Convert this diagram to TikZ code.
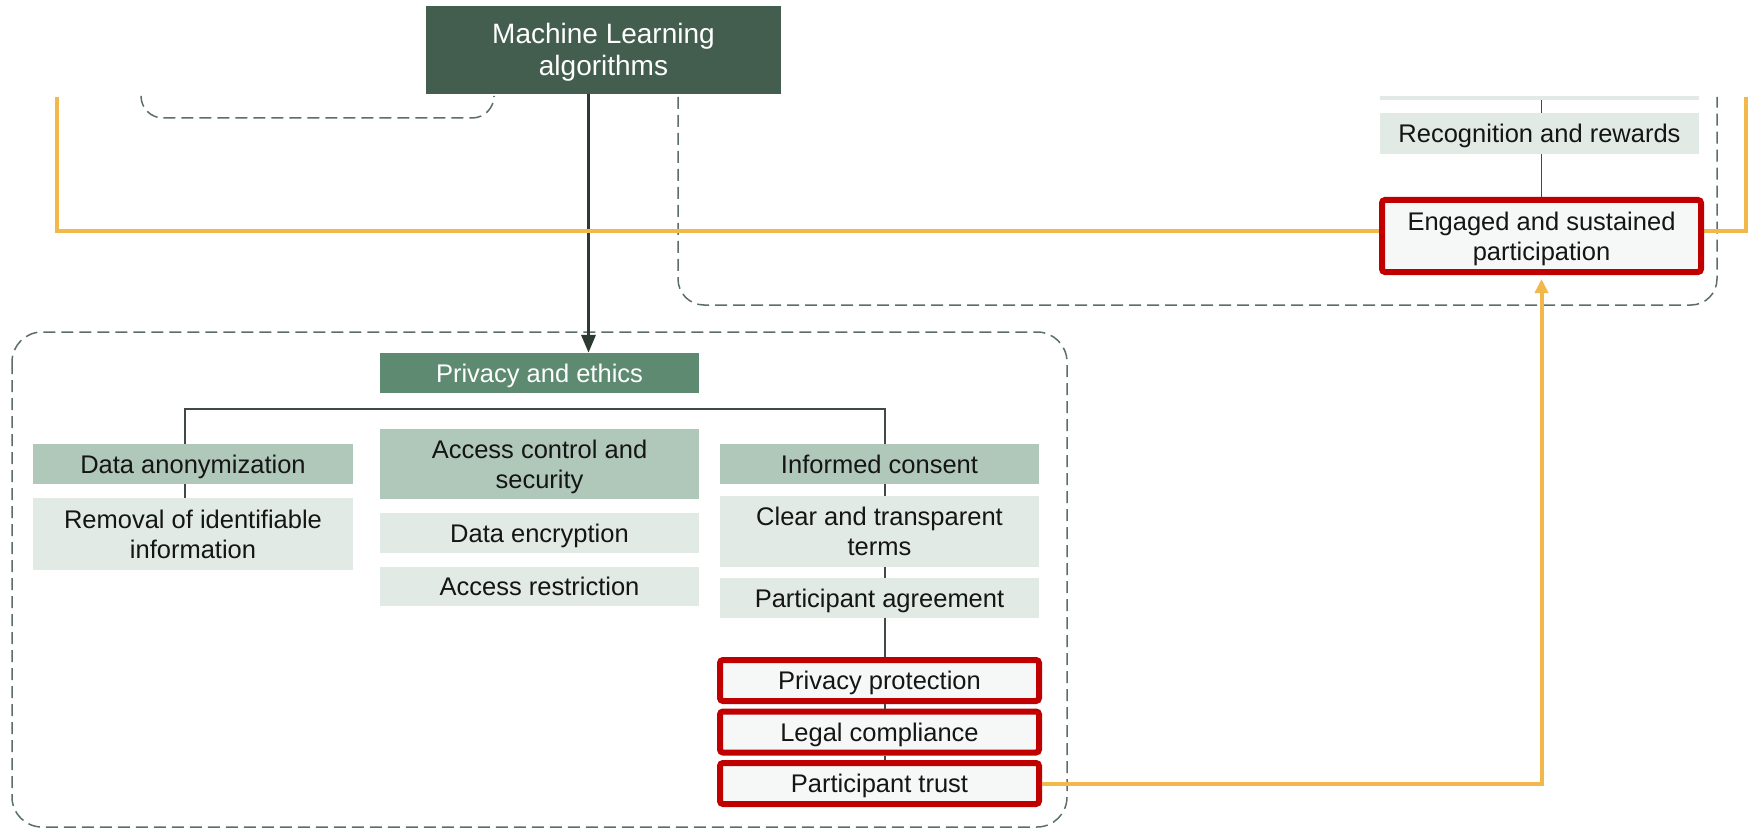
\documentclass[tikz,border=0pt]{standalone}
\usepackage{fontspec}
\setmainfont{Liberation Sans}
\usetikzlibrary{arrows.meta}

\definecolor{mldark}{HTML}{435E4F}
\definecolor{headc}{HTML}{5E8A71}
\definecolor{catc}{HTML}{AFC8B9}
\definecolor{leafc}{HTML}{E1EAE5}
\definecolor{keyfill}{HTML}{F6F8F7}
\definecolor{keyred}{HTML}{C00000}
\definecolor{framec}{HTML}{5B6F66}
\definecolor{linkc}{HTML}{3E4A43}
\definecolor{arrowc}{HTML}{2C3A31}
\definecolor{orangec}{HTML}{F3B84A}
\definecolor{textc}{HTML}{151515}

\newcommand\txtbody{\fontsize{25.5}{30}\selectfont}
\newcommand\txtmain{\fontsize{28}{32}\selectfont}

\begin{document}
\begin{tikzpicture}[x=1pt,y=-1pt,
  box/.style={rectangle, inner sep=0pt, align=center, font=\txtbody, text=textc,
              text height=18.3pt, text depth=0pt,
              minimum width=319pt, minimum height=40pt},
  twolines/.style={text height=48.3pt},
  mlbox/.style={box, fill=mldark, text=white, font=\txtmain, text height=52pt,
              minimum width=355pt, minimum height=88pt},
  headbox/.style={box, fill=headc, text=white},
  catbox/.style={box, fill=catc},
  leafbox/.style={box, fill=leafc},
  keybox/.style={box, fill=keyfill, draw=keyred, line width=6pt, rounded corners=3pt,
              minimum height=41pt},
  link/.style={draw=linkc, line width=1.5pt},
  frame/.style={draw=framec, line width=1.5pt, dash pattern=on 12pt off 6pt},
  flow/.style={draw=orangec, line width=4pt},
]
\useasboundingbox[fill=white] (0,0) rectangle (1754,829);

% dashed group frames
\draw[frame, rounded corners=22pt] (141,97) -- (141,118) -- (494,118) -- (494,97);
\draw[frame, rounded corners=26pt] (678,97) -- (678,305) -- (1717,305) -- (1717,97);
\draw[frame, rounded corners=30pt] (12,332) rectangle (1067,827);

% nodes
\node[mlbox] (ml) at (603.5,50) {Machine Learning\\algorithms};
\node[headbox] (pe) at (539.5,373) {Privacy and ethics};

\node[catbox, minimum width=320pt] (da) at (193,464) {Data anonymization};
\node[leafbox, twolines, minimum width=320pt, minimum height=72pt] (rem) at (193,534)
  {Removal of identifiable\\information};

\node[catbox, twolines, minimum height=70pt] (acs) at (539.5,464) {Access control and\\security};
\node[leafbox] (de) at (539.5,533) {Data encryption};
\node[leafbox, minimum height=39pt] (ar) at (539.5,586.5) {Access restriction};

\node[catbox] (ic) at (879.5,464) {Informed consent};
\node[leafbox, twolines, minimum height=71pt] (ct) at (879.5,531.5) {Clear and transparent\\terms};
\node[leafbox] (pa) at (879.5,598) {Participant agreement};

\node[keybox] (pp) at (879.5,680.5) {Privacy protection};
\node[keybox] (lc) at (879.5,732) {Legal compliance};
\node[keybox] (pt) at (879.5,783.5) {Participant trust};

\node[leafbox, minimum height=4pt, text height=0pt] (rtop) at (1539.5,98) {};
\node[leafbox, minimum height=41pt] (rr) at (1539.5,133.5) {Recognition and rewards};

% tree links
\coordinate (bl) at (185,409);
\coordinate (br) at (885,409);
\draw[link, line width=2.2pt] (bl |- da.north) -- (bl) -- (br) -- (br |- ic.north);
\draw[link] (bl |- da.south) -- (bl |- rem.north);
\draw[link] (br |- ic.south) -- (br |- ct.north);
\draw[link] (br |- ct.south) -- (br |- pa.north);
\draw[link] (br |- pa.south) -- (br |- pp.north);
\draw[link] (br |- pp.south) -- (br |- lc.north);
\draw[link] (br |- lc.south) -- (br |- pt.north);

% main arrow
\draw[draw=arrowc, line width=3.5pt, -{Triangle[length=18pt,width=14pt]}]
  ([xshift=-15pt]ml.south) -- ([xshift=-15pt]ml.south |- pe.north);

% orange flows
\coordinate (fl) at (57,97);
\coordinate (fr) at (1746,97);
\draw[flow] (fl) -- (57,231) -- (1746,231) -- (fr);

% engaged participation box sits on top of the flow line
\node[keybox, twolines, minimum height=72pt] (es) at (1541.5,236) {Engaged and sustained\\participation};
\draw[link] (es.north |- rtop.south) -- (es.north |- rr.north);
\draw[link] (es.north |- rr.south) -- (es.north);
\draw[flow, -{Triangle[length=14pt,width=13pt]}, shorten >=4pt]
  (pt.east) -| (es.south);
\end{tikzpicture}
\end{document}
